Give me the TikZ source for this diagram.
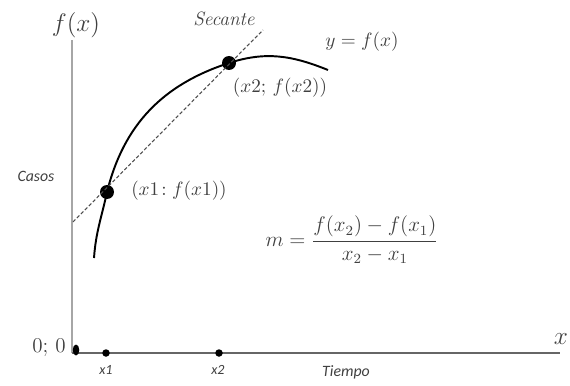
\documentclass[tikz,border=0pt]{standalone}
\usepackage{amsmath}
\usepackage{fontspec}
\newfontfamily\calibri{Carlito}
\usetikzlibrary{shapes.geometric}

\begin{document}
\begin{tikzpicture}[
                text=black!75,
                punto/.style={circle, fill=black, inner sep=0pt, minimum size=0.28cm},
                marca/.style={circle, fill=black, inner sep=0pt, minimum size=0.15cm},
                etiqueta/.style={font=\calibri\itshape\small},
                curva/.style={draw, line width=1.1pt},
                secante/.style={draw, black!70, dash pattern=on 2pt off 1.2pt, line width=0.6pt}
            ]
                \useasboundingbox (0,0) rectangle (11.4,7.7);

                % --- EJES ---
                \coordinate (O) at (1.44,0.64);
                \coordinate (ytop) at (1.44,6.90);
                \coordinate (xend) at (11.2,0.64);
                \draw[black!35, line width=1pt] (O) -- (ytop);
                \draw[black!60, line width=1.4pt] (O) -- (xend);
                \node (fx) at (1.52,7.20) {\Large $f(x)$};
                \node (xlab) [anchor=east, inner sep=1pt] at (11.4,0.92) {\Large $x$};
                \node[etiqueta] (casos) at (0.72,4.18) {Casos};
                \node[etiqueta] (tiempo) at (6.92,0.26) {Tiempo};
                \node (cero) at (0.98,0.74) {\large 0; 0};

                % --- PUNTOS EN EL EJE X ---
                \node[ellipse, fill=black, inner sep=0pt, minimum width=0.13cm, minimum height=0.22cm] (orig) at (1.52,0.70) {};
                \node[marca] (mx1) at (2.12,0.64) {};
                \node[marca] (mx2) at (4.38,0.64) {};
                \node[etiqueta, font=\calibri\itshape\footnotesize] (lx1) at (2.12,0.30) {x1};
                \node[etiqueta, font=\calibri\itshape\footnotesize] (lx2) at (4.36,0.30) {x2};

                % --- CURVA Y SECANTE ---
                \coordinate (c0) at (1.88,2.54);
                \coordinate (c3) at (6.56,6.30);
                \node[punto] (p1) at (2.14,3.86) {};
                \node[punto] (p2) at (4.58,6.44) {};
                \draw[curva] (c0) to[out=86,in=258] (p1.center) to[out=76,in=198] (p2.center) to[out=18,in=158] (c3);
                \coordinate (secA) at (1.46,3.26);
                \coordinate (secB) at (5.26,7.10);
                \draw[secante] (secA) -- (secB);

                % --- ETIQUETAS ---
                \node (lsec) at (4.48,7.32) {\fontsize{11}{13}\selectfont\itshape Secante};
                \node (lfun) at (7.24,6.86) {\fontsize{11}{13}\selectfont $y=f(x)$};
                \node (lp2) at (5.60,5.94) {\fontsize{11}{13}\selectfont $(x2;\,f(x2))$};
                \node (lp1) at (3.58,3.88) {\fontsize{11}{13}\selectfont $(x1\!:f(x1))$};
                \node (pend) at (7.04,2.90) {\large $m=\dfrac{f(x_2)-f(x_1)}{x_2-x_1}$};

            \end{tikzpicture}
\end{document}
